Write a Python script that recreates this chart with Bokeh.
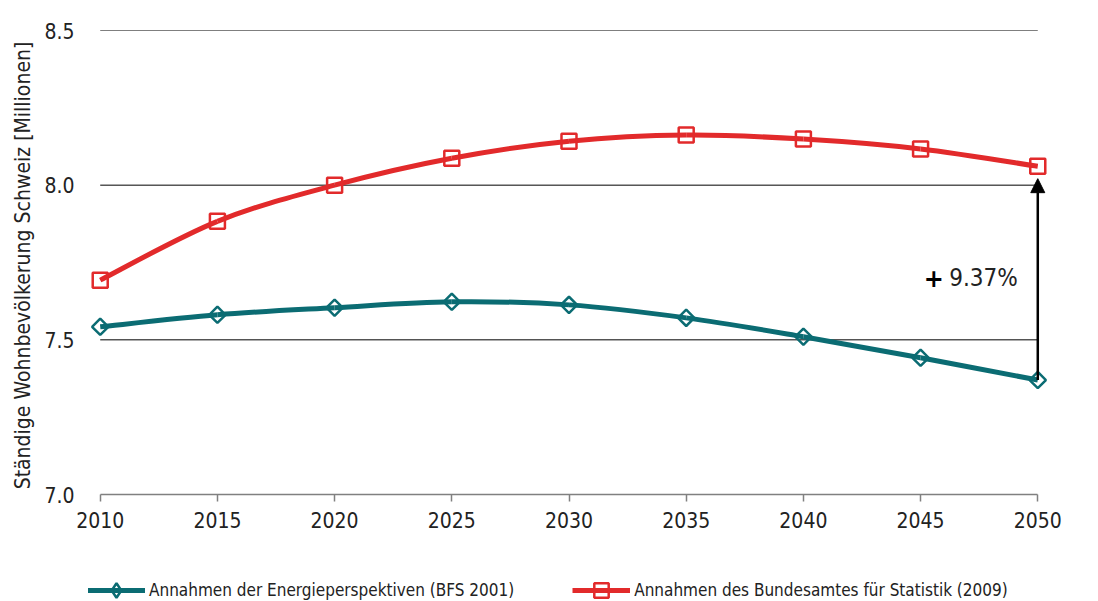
from bokeh.plotting import figure
from bokeh.layouts import column
from bokeh.models import (Range1d, FixedTicker, Legend, LegendItem, Arrow,
                          NormalHead, Label, CustomJSTickFormatter)
from bokeh.embed import file_html
from bokeh.resources import INLINE

years = [2010, 2015, 2020, 2025, 2030, 2035, 2040, 2045, 2050]
energieperspektiven = [7.542, 7.581, 7.604, 7.623, 7.613, 7.571, 7.510, 7.442, 7.370]
bfs_2009 = [7.693, 7.883, 8.000, 8.087, 8.142, 8.162, 8.149, 8.117, 8.061]
series_labels = ["Annahmen der Energieperspektiven (BFS 2001)",
                 "Annahmen des Bundesamtes für Statistik (2009)"]
y_ticks = [7.0, 7.5, 8.0, 8.5]
x_ticks = years
growth_label = "9.37%"

FONT = "DejaVu Sans Condensed"
TEAL = "#0b6c73"
RED = "#e22a2b"
PAD = 0.5  # half a year of room so end markers are not clipped


def smooth_segments(xs, ys):
    """Cubic Bezier segments through the points (Catmull-Rom style smoothing)."""
    n = len(xs)
    seg = dict(x0=[], y0=[], x1=[], y1=[], cx0=[], cy0=[], cx1=[], cy1=[])
    for i in range(n - 1):
        xp, yp = (xs[i - 1], ys[i - 1]) if i > 0 else (xs[i], ys[i])
        xn, yn = (xs[i + 2], ys[i + 2]) if i + 2 < n else (xs[i + 1], ys[i + 1])
        seg["x0"].append(xs[i]); seg["y0"].append(ys[i])
        seg["x1"].append(xs[i + 1]); seg["y1"].append(ys[i + 1])
        seg["cx0"].append(xs[i] + (xs[i + 1] - xp) / 6)
        seg["cy0"].append(ys[i] + (ys[i + 1] - yp) / 6)
        seg["cx1"].append(xs[i + 1] - (xn - xs[i]) / 6)
        seg["cy1"].append(ys[i + 1] - (yn - ys[i]) / 6)
    return seg


x0, x1 = years[0], years[-1]
p = figure(frame_width=961, frame_height=464, output_backend="svg",
           toolbar_location=None,
           x_range=Range1d(x0 - PAD, x1 + PAD), y_range=Range1d(7.0, 8.5),
           min_border_left=88, min_border_right=49, min_border_top=30,
           min_border_bottom=54)
p.outline_line_color = None
p.background_fill_color = "white"
p.border_fill_color = "white"

# axes
p.xaxis.ticker = FixedTicker(ticks=x_ticks)
p.xaxis.bounds = (x0, x1)
p.xaxis.axis_line_color = "#808080"
p.xaxis.axis_line_width = 1.5
p.xaxis.major_tick_line_color = "#808080"
p.xaxis.major_tick_line_width = 1.5
p.xaxis.major_tick_in = 0
p.xaxis.major_tick_out = 7
p.xaxis.minor_tick_line_color = None
p.xaxis.major_label_text_font = FONT
p.xaxis.major_label_text_font_size = "21px"
p.xaxis.major_label_text_color = "#222222"
p.xaxis.major_label_standoff = 10

p.yaxis.ticker = FixedTicker(ticks=y_ticks)
p.yaxis.formatter = CustomJSTickFormatter(code="return tick.toFixed(1);")
p.yaxis.axis_line_color = None
p.yaxis.major_tick_line_color = None
p.yaxis.minor_tick_line_color = None
p.yaxis.major_label_text_font = FONT
p.yaxis.major_label_text_font_size = "21px"
p.yaxis.major_label_text_color = "#222222"
p.yaxis.major_label_standoff = 8
p.yaxis.axis_label = "Ständige Wohnbevölkerung Schweiz  [Millionen]"
p.yaxis.axis_label_text_font = FONT
p.yaxis.axis_label_text_font_size = "21px"
p.yaxis.axis_label_text_font_style = "normal"
p.yaxis.axis_label_text_color = "#222222"
p.yaxis.axis_label_standoff = 6

# horizontal gridlines spanning exactly the year range
p.xgrid.grid_line_color = None
p.ygrid.grid_line_color = None
grid_y = y_ticks[1:]
p.segment(x0=[x0] * len(grid_y), y0=grid_y, x1=[x1] * len(grid_y), y1=grid_y,
          line_color="black", line_width=1)

# smoothed series lines
s1 = smooth_segments(years, energieperspektiven)
s2 = smooth_segments(years, bfs_2009)
p.bezier(source=s1, x0="x0", y0="y0", x1="x1", y1="y1", cx0="cx0", cy0="cy0",
         cx1="cx1", cy1="cy1", line_color=TEAL, line_width=5)
p.bezier(source=s2, x0="x0", y0="y0", x1="x1", y1="y1", cx0="cx0", cy0="cy0",
         cx1="cx1", cy1="cy1", line_color=RED, line_width=5)

# markers: open diamonds (rotated squares) and open squares
p.scatter(years, energieperspektiven, marker="square", angle=0.7854,
          size=11.5, fill_color=None, line_color=TEAL, line_width=2.5)
p.scatter(years, bfs_2009, marker="square", size=15,
          fill_color=None, line_color=RED, line_width=2.5)

# growth arrow between the 2050 values
p.add_layout(Arrow(end=NormalHead(size=14, fill_color="black", line_color="black"),
                   x_start=x1, y_start=energieperspektiven[-1],
                   x_end=x1, y_end=bfs_2009[-1] - 0.04,
                   line_color="black", line_width=2.5))

p.add_layout(Label(x=x1, y=7.70, x_offset=-20, text=growth_label,
                   text_align="right", text_baseline="middle",
                   text_font=FONT, text_font_size="24px", text_color="#222222"))
p.add_layout(Label(x=x1, y=7.70, x_offset=-94, text="+",
                   text_align="right", text_baseline="middle",
                   text_font="DejaVu Sans", text_font_style="bold",
                   text_font_size="24px", text_color="black"))

# legend strip underneath the chart; its sample glyphs sit outside the
# strip's visible range so only the legend entries show
lg = figure(width=1098, height=53, output_backend="svg", toolbar_location=None,
            x_range=Range1d(0, 1), y_range=Range1d(0, 1),
            x_axis_location=None, y_axis_location=None, min_border=0)
lg.outline_line_color = None
lg.grid.grid_line_color = None
lg.border_fill_color = "white"
hidden = [-10]
l1 = lg.line(x=hidden, y=hidden, line_color=TEAL, line_width=5)
k1 = lg.scatter(x=hidden, y=hidden, marker="diamond", fill_color=None,
                line_color=TEAL, line_width=2.5)
l2 = lg.line(x=hidden, y=hidden, line_color=RED, line_width=5)
k2 = lg.scatter(x=hidden, y=hidden, marker="square", fill_color=None,
                line_color=RED, line_width=2.5)
legend = Legend(items=[LegendItem(label=series_labels[0], renderers=[l1, k1]),
                       LegendItem(label=series_labels[1], renderers=[l2, k2])],
                orientation="horizontal", location=(-1, -7),
                label_text_font=FONT, label_text_font_size="17px",
                label_text_color="#222222", glyph_width=58, glyph_height=36,
                label_standoff=4, spacing=58, border_line_color=None,
                background_fill_alpha=0, padding=0, margin=0)
lg.add_layout(legend, "center")

open("out.html", "w").write(file_html(column(p, lg, spacing=0), INLINE))
